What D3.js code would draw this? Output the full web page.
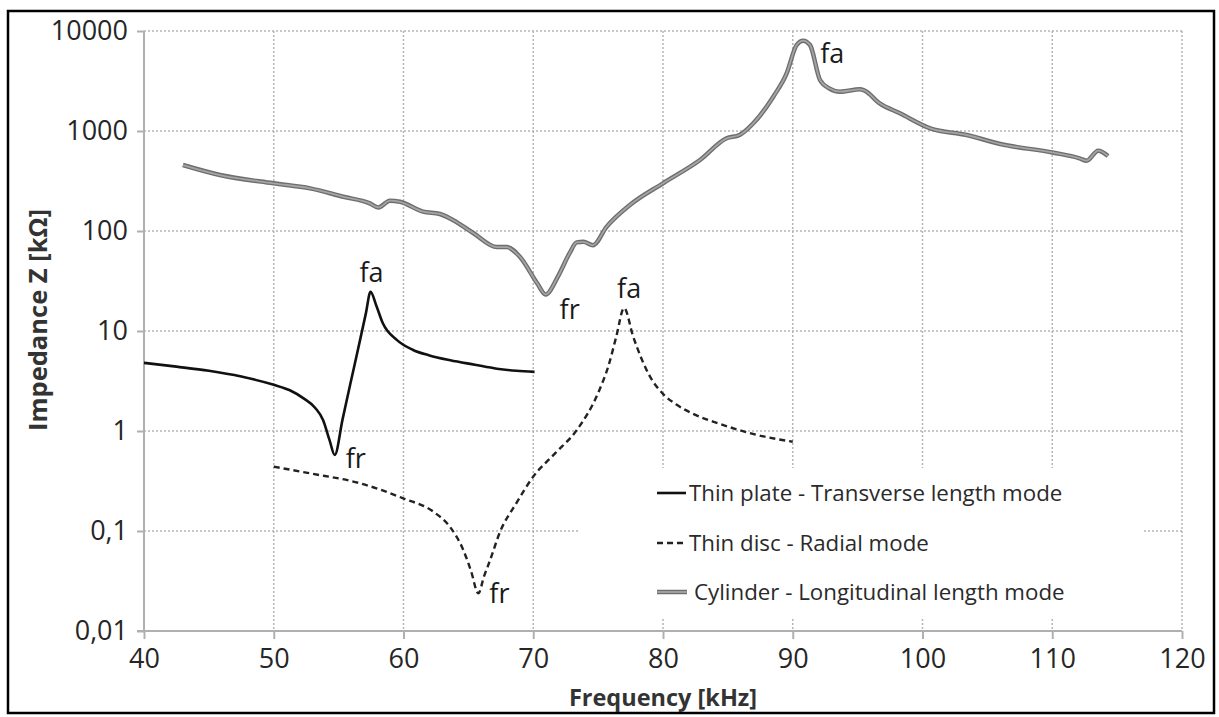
<!DOCTYPE html>
<html>
<head>
<meta charset="utf-8">
<script src="https://cdn.jsdelivr.net/npm/d3@7"></script>
<style>
  html, body { margin: 0; padding: 0; background: #fff; }
  svg text { font-family: "Open Sans", "Noto Sans", sans-serif; }
</style>
</head>
<body>
<svg id="chart" width="1219" height="717"></svg>
<script>
// impedance vs frequency, three piezo shapes, log y axis
const xTicks = [40, 50, 60, 70, 80, 90, 100, 110, 120];
const yTicks = [0.01, 0.1, 1, 10, 100, 1000, 10000];
const yTickLabels = ["0,01", "0,1", "1", "10", "100", "1000", "10000"];

// thin plate, transverse length mode  [kHz, kOhm]
const plateFreq = [40, 42.5, 45, 47.5, 50, 51.2, 52.3, 53.2, 53.8, 54.3, 54.7, 55.3, 55.9, 56.65, 57.1, 57.46, 57.9, 58.4, 59.5, 60.7, 62, 63.6, 65.5, 67.2, 68.7, 70.1];
const plateZ    = [4.8, 4.4, 4.0, 3.5, 2.9, 2.57, 2.12, 1.7, 1.29, 0.81, 0.575, 1.3, 2.95, 8.1, 15, 24.7, 18, 12, 8.1, 6.5, 5.7, 5.1, 4.6, 4.2, 4.0, 3.9];

// thin disc, radial mode
const discFreq = [50, 52.8, 56.65, 59.98, 62.3, 63.58, 64.6, 65.2, 65.77, 66.2, 66.67, 67.44, 68.7, 70.0, 71.7, 73.35, 75.1, 75.8, 76.4, 77.0, 77.7, 79.0, 80.0, 81.0, 82.5, 84.2, 87, 90.0];
const discZ    = [0.44, 0.377, 0.30, 0.212, 0.156, 0.11, 0.065, 0.04, 0.0238, 0.035, 0.051, 0.098, 0.19, 0.35, 0.6, 1.02, 2.57, 4.5, 8.8, 17, 8.8, 3.5, 2.35, 1.85, 1.45, 1.2, 0.93, 0.78];

// cylinder, longitudinal length mode
const cylFreq = [43.0, 45.86, 49.97, 52.8, 55.36, 57.4, 58.06, 58.96, 59.73, 61.5, 62.8, 63.8, 65.4, 67.2, 67.95, 68.98, 70.3, 70.95, 71.9, 72.8, 73.35, 73.86, 74.6, 75.65, 77.45, 80.0, 82.85, 84.9, 85.9, 86.96, 88.5, 89.53, 90.3, 90.8, 91.33, 92.1, 92.8, 93.64, 95.18, 95.5, 96.7, 98.26, 100.6, 103.4, 106.0, 110.1, 112.1, 112.65, 113.55, 114.3];
const cylZ    = [457, 363, 300, 267, 220, 189, 172, 201, 196, 156, 148, 129, 95, 69, 69, 55, 30, 23.2, 35, 60, 77, 78, 72, 110, 182, 300, 513, 845, 912, 1194, 2203, 3776, 7244, 8000, 7244, 3236, 2673, 2473, 2610, 2550, 1890, 1503, 1064, 912, 741, 607, 533, 505, 636, 562];

const legendLabels = ["Thin plate - Transverse length mode", "Thin disc - Radial mode", "Cylinder - Longitudinal length mode"];

// resonance / anti-resonance markers
const markFreq = [57.46, 54.7, 77.0, 65.77, 70.95, 90.8];
const markZ    = [24.7, 0.575, 17, 0.0238, 23.2, 8000];
const markText = ["fa", "fr", "fa", "fr", "fr", "fa"];

const svg = d3.select('#chart');
const x = d3.scaleLinear().domain([40, 120]).range([144, 1182]);
const y = d3.scaleLog().domain([0.01, 10000]).range([631, 31]);

// outer frame
svg.append('rect').attr('x', 8).attr('y', 11).attr('width', 1206).attr('height', 702)
  .attr('fill', '#fff').attr('stroke', '#000').attr('stroke-width', 2.5);

// grid
const grid = svg.append('g').attr('stroke', '#b5b5b5').attr('stroke-width', 1.5).attr('stroke-dasharray', '2,2');
yTicks.slice(1).forEach(v => grid.append('line').attr('x1', x(40)).attr('x2', x(120)).attr('y1', y(v)).attr('y2', y(v)));
xTicks.slice(1).forEach(v => grid.append('line').attr('x1', x(v)).attr('x2', x(v)).attr('y1', y(10000)).attr('y2', y(0.01)));

// legend background hides grid behind it
svg.append('rect').attr('x', 578).attr('y', 468).attr('width', 565).attr('height', 149).attr('fill', '#fff');

// axes
const yAxis = svg.append('g').attr('transform', `translate(${x(40)},0)`)
  .call(d3.axisLeft(y).tickValues(yTicks).tickFormat((d, i) => yTickLabels[i]).tickSize(7).tickPadding(9));
const xAxis = svg.append('g').attr('transform', `translate(0,${y(0.01)})`)
  .call(d3.axisBottom(x).tickValues(xTicks).tickSize(8).tickPadding(10));
[xAxis, yAxis].forEach(g => {
  g.select('.domain').attr('stroke', '#b0b0b0').attr('stroke-width', 2);
  g.selectAll('.tick line').attr('stroke', '#b0b0b0').attr('stroke-width', 2);
  g.selectAll('.tick text').attr('fill', '#262626').style('font-size', '27px').style('font-family', '"Open Sans", sans-serif');
});
yAxis.select('.domain').attr('d', `M0,${y(10000)}V${y(0.01)}`);
xAxis.select('.domain').attr('d', `M${-7 + x(40)},0H${x(120)}`);

// axis titles
svg.append('text').attr('x', 663).attr('y', 706).attr('text-anchor', 'middle')
  .style('font-size', '23.5px').style('font-weight', 'bold').attr('fill', '#333').text('Frequency [kHz]');
svg.append('text').attr('transform', 'translate(47,320) rotate(-90)').attr('text-anchor', 'middle')
  .style('font-size', '25.5px').style('font-weight', 'bold').attr('fill', '#333').text('Impedance Z [kΩ]');

// curves
const line = d3.line().x(d => x(d[0])).y(d => y(d[1])).curve(d3.curveMonotoneX);
const cylData = d3.zip(cylFreq, cylZ);
svg.append('path').attr('d', line(cylData)).attr('fill', 'none').attr('stroke', '#6e6e6e').attr('stroke-width', 4.5).attr('stroke-linejoin', 'round');
svg.append('path').attr('d', line(cylData)).attr('fill', 'none').attr('stroke', '#a5a5a5').attr('stroke-width', 1.8).attr('stroke-linejoin', 'round');
svg.append('path').attr('d', line(d3.zip(plateFreq, plateZ))).attr('fill', 'none').attr('stroke', '#111').attr('stroke-width', 2.6);
svg.append('path').attr('d', line(d3.zip(discFreq, discZ))).attr('fill', 'none').attr('stroke', '#222').attr('stroke-width', 2.4).attr('stroke-dasharray', '6,4');

// fa / fr labels, offset from the extremum they mark
const markDx = [-11, 11, -7, 11, 14, 17];
const markDy = [-10, 13, -10, 10, 25, 22];
markText.forEach((t, i) => {
  svg.append('text').attr('x', x(markFreq[i]) + markDx[i]).attr('y', y(markZ[i]) + markDy[i])
    .style('font-size', '27px').attr('fill', '#1a1a1a').text(t);
});

// legend
const legY = [493, 543, 592];
const leg = svg.append('g');
leg.append('line').attr('x1', 657).attr('x2', 686).attr('y1', legY[0]).attr('y2', legY[0]).attr('stroke', '#111').attr('stroke-width', 2.6);
leg.append('line').attr('x1', 657).attr('x2', 686).attr('y1', legY[1]).attr('y2', legY[1]).attr('stroke', '#222').attr('stroke-width', 2.4).attr('stroke-dasharray', '6,4');
leg.append('line').attr('x1', 657).attr('x2', 687).attr('y1', legY[2]).attr('y2', legY[2]).attr('stroke', '#6e6e6e').attr('stroke-width', 4.5);
leg.append('line').attr('x1', 657).attr('x2', 687).attr('y1', legY[2]).attr('y2', legY[2]).attr('stroke', '#a5a5a5').attr('stroke-width', 1.8);
legendLabels.forEach((t, i) => {
  leg.append('text').attr('x', i === 2 ? 694 : 689).attr('y', legY[i]).attr('dy', '0.35em')
    .style('font-size', '22.3px').attr('fill', '#2a2a2a').text(t);
});
</script>
</body>
</html>
